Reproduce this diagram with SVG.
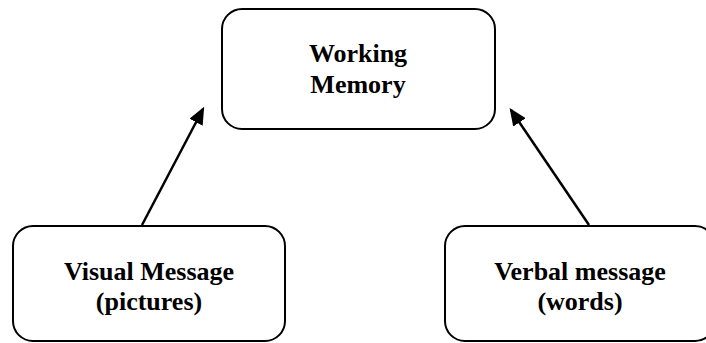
<svg xmlns="http://www.w3.org/2000/svg" width="706" height="343" viewBox="0 0 706 343">
<defs>
<style>
.box{fill:#fff;stroke:#000;stroke-width:2}
.lbl{font-family:"Liberation Serif","Times New Roman",serif;font-weight:bold;font-size:26px;fill:#000;text-anchor:middle}
.conn{stroke:#000;stroke-width:2.5;fill:none;marker-end:url(#ah)}
</style>
<marker id="ah" markerWidth="7" markerHeight="6" refX="6" refY="3" orient="auto" markerUnits="strokeWidth">
<path d="M0,0 L7,3 L0,6 Z" fill="#000"/>
</marker>
</defs>
<rect width="706" height="343" fill="#fff"/>
<g id="working-memory">
<rect class="box" x="222" y="9" width="273" height="120" rx="20" ry="20"/>
<text class="lbl" x="358" y="62">Working</text>
<text class="lbl" x="358" y="93">Memory</text>
</g>
<g id="visual-message">
<rect class="box" x="13" y="226" width="272" height="115" rx="20" ry="20"/>
<text class="lbl" x="149" y="280">Visual Message</text>
<text class="lbl" x="149" y="310">(pictures)</text>
</g>
<g id="verbal-message">
<rect class="box" x="445" y="226" width="270" height="115" rx="20" ry="20"/>
<text class="lbl" x="580" y="280">Verbal message</text>
<text class="lbl" x="580" y="310">(words)</text>
</g>
<g id="connectors">
<line class="conn" x1="142" y1="225" x2="203" y2="109"/>
<line class="conn" x1="589" y1="225" x2="511" y2="110"/>
</g>
</svg>
